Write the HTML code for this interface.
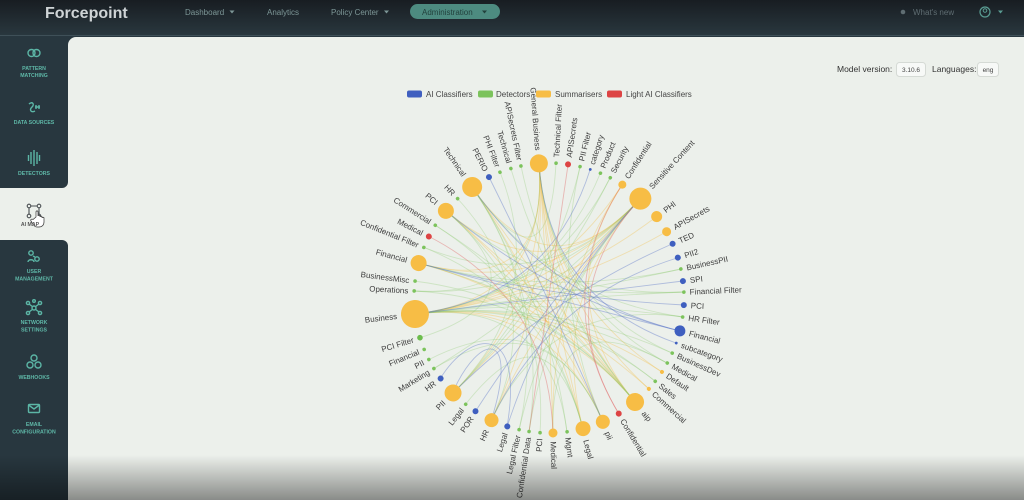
<!DOCTYPE html>
<html><head><meta charset="utf-8"><style>
*{margin:0;padding:0;box-sizing:border-box}
html,body{width:1024px;height:500px;overflow:hidden}
body{background:#ecf0eb;font-family:"Liberation Sans",sans-serif;position:relative}
.nav{position:absolute;left:0;top:0;width:1024px;height:36px;background:linear-gradient(#181d22,#29373e);border-bottom:1px solid #3f5058}
.dk{position:absolute;left:0;top:30px;width:1024px;height:30px;background:#28373f}
.content{position:absolute;left:68px;top:37px;width:956px;height:463px;background:#ecf0eb;border-top-left-radius:8px}
.sb1{position:absolute;left:0;top:36px;width:68px;height:152px;background:#28373f;border-bottom-right-radius:6px}
.sb2{position:absolute;left:0;top:240px;width:68px;height:260px;background:#28373f;border-top-right-radius:6px}
.shade{position:absolute;left:0;top:455px;width:1024px;height:45px;background:linear-gradient(rgba(0,0,0,0),rgba(0,0,0,0.42))}
svg{position:absolute;left:0;top:0}
</style></head><body>
<div class="dk"></div>
<div class="nav"></div>
<div class="content"></div>
<div class="sb1"></div>
<div class="sb2"></div>
<svg width="1024" height="500" viewBox="0 0 1024 500" font-family="Liberation Sans, sans-serif">
<!-- NAV -->
<text x="45" y="18" font-size="16" font-weight="bold" fill="#cfd4d6">Forcepoint</text>
<g font-size="8" fill="#7d9797">
<text x="185" y="15">Dashboard</text><path d="M229.5,10.5h5l-2.5,3z"/>
<text x="267" y="15">Analytics</text>
<text x="331" y="15">Policy Center</text><path d="M384,10.5h5l-2.5,3z"/>
</g>
<rect x="410" y="4" width="90" height="15" rx="7.5" fill="#4d8b80"/>
<text x="422" y="14.8" font-size="8" fill="#22413c">Administration</text><path d="M482,10.5h5l-2.5,3z" fill="#22413c"/>
<circle cx="903" cy="12" r="2.3" fill="#5f6d72"/>
<text x="913" y="15" font-size="8" fill="#5f6d72">What's new</text>
<circle cx="985" cy="12" r="5" fill="none" stroke="#5a9d93" stroke-width="1.2"/>
<circle cx="985" cy="10.5" r="1.8" fill="none" stroke="#5a9d93" stroke-width="1"/>
<path d="M998,10.5h5l-2.5,3z" fill="#5a9d93"/>

<!-- SIDEBAR -->
<g fill="none" stroke="#5cb6a6" stroke-width="1.4">
<circle cx="31.5" cy="53" r="3.5"/><circle cx="36.5" cy="53" r="3.5"/>
<path d="M29,104c3,-3 6,0 3,3c-3,3 -1,6 3,4M35,107h5M36,105v4M39,105v4"/>
<path d="M26,158v0M28.5,155v6M31,152v12M34,150v16M37,152v12M39.5,155v6M42,158v0"/>
<circle cx="31" cy="253" r="2.2"/><circle cx="37" cy="259" r="2.2"/><path d="M28,262c0,-3 6,-3 6,0M33,256l2,1"/>
<circle cx="34" cy="308" r="2"/><circle cx="28" cy="303" r="1.6"/><circle cx="40" cy="303" r="1.6"/><circle cx="28" cy="313" r="1.6"/><circle cx="40" cy="313" r="1.6"/><circle cx="34" cy="301" r="1.3"/><path d="M29,304l4,3M39,304l-4,3M29,312l4,-3M39,312l-4,-3"/>
<circle cx="34" cy="358" r="3"/><circle cx="30" cy="365" r="3"/><circle cx="38" cy="365" r="3"/>
<rect x="28.5" y="404.5" width="11" height="8" rx="1"/><path d="M28.5,405l5.5,4l5.5,-4"/>
</g>
<g fill="none" stroke="#4a4f52" stroke-width="1.1">
<circle cx="29" cy="206" r="1.8"/><circle cx="39" cy="206" r="1.8"/><circle cx="29" cy="216" r="1.8"/><circle cx="39" cy="216" r="1.8"/>
<path d="M31,206h6M29,208v6M39,208v6"/>
</g>
<path d="M36,217v-5c0,-1.5 2,-1.5 2,0v4c0,-1 2,-1 2,0v1c0,-1 2,-1 2,0v1c0,-1 2,-1 2,0v4c0,3 -2,5 -5,5h-2c-2,0 -3,-1 -4,-3l-2,-3c-1,-1.5 1,-2.5 2,-1.5z" fill="#fff" stroke="#333" stroke-width="0.7"/>
<g font-size="5.2" font-weight="bold" fill="#5fb8a8" text-anchor="middle">
<text x="34" y="70">PATTERN</text><text x="34" y="77">MATCHING</text>
<text x="34" y="124">DATA SOURCES</text>
<text x="34" y="175">DETECTORS</text>
<text x="34" y="273">USER</text><text x="34" y="280.5">MANAGEMENT</text>
<text x="34" y="324">NETWORK</text><text x="34" y="331.5">SETTINGS</text>
<text x="34" y="379">WEBHOOKS</text>
<text x="34" y="426">EMAIL</text><text x="34" y="433.5">CONFIGURATION</text>
</g>
<text x="30" y="226" font-size="5.2" font-weight="bold" fill="#555" text-anchor="middle">AI MAP</text>

<!-- MODEL VERSION -->
<text x="837" y="72" font-size="8.5" fill="#333">Model version:</text>
<rect x="896.5" y="62.5" width="29" height="14" rx="3" fill="#f7f9f7" stroke="#d5dad5"/>
<text x="911" y="71.8" font-size="6.5" fill="#444" text-anchor="middle">3.10.6</text>
<text x="932" y="72" font-size="8.5" fill="#333">Languages:</text>
<rect x="977.5" y="62.5" width="21" height="14" rx="3" fill="#f7f9f7" stroke="#d5dad5"/>
<text x="988" y="71.8" font-size="6.5" fill="#444" text-anchor="middle">eng</text>

<!-- LEGEND -->
<g font-size="8" fill="#444">
<rect x="407" y="90.5" width="15" height="7" rx="2" fill="#3f5fbf"/><text x="426" y="97">AI Classifiers</text>
<rect x="478" y="90.5" width="15" height="7" rx="2" fill="#7cc35c"/><text x="496" y="97">Detectors</text>
<rect x="536" y="90.5" width="15" height="7" rx="2" fill="#f7bd45"/><text x="555" y="97">Summarisers</text>
<rect x="607" y="90.5" width="15" height="7" rx="2" fill="#dd4444"/><text x="626" y="97">Light AI Classifiers</text>
</g>

<!-- LINKS -->
<g fill="none" stroke-width="0.9">
<g stroke="#f2bf4f" stroke-opacity="0.38">
<path d="M539,164Q549,298 415,314"/><path d="M539,164Q549,298 635,402"/><path d="M539,164Q549,298 583,429"/><path d="M539,164Q549,298 603,422"/><path d="M539,164Q549,298 553,434"/><path d="M539,164Q549,298 491,421"/><path d="M539,164Q549,298 649,389"/><path d="M539,164Q549,298 662,372"/><path d="M539,164Q549,298 452,394"/><path d="M539,164Q549,298 418,263"/>
<path d="M640,199Q549,298 415,314"/><path d="M640,199Q549,298 418,263"/><path d="M640,199Q549,298 452,394"/><path d="M640,199Q549,298 445,210"/><path d="M640,199Q549,298 472,187"/><path d="M640,199Q549,298 583,429"/><path d="M640,199Q549,298 491,421"/>
<path d="M415,314Q549,298 656,217"/><path d="M415,314Q549,298 666,232"/><path d="M415,314Q549,298 622,185"/><path d="M415,314Q549,298 635,402"/><path d="M415,314Q549,298 662,372"/><path d="M415,314Q549,298 603,422"/>
<path d="M635,402Q549,298 472,187"/><path d="M635,402Q549,298 445,210"/><path d="M635,402Q549,298 418,263"/><path d="M635,402Q549,298 622,185"/>
<path d="M472,187Q549,298 583,429"/><path d="M445,210Q549,298 603,422"/><path d="M418,263Q549,298 649,389"/><path d="M553,434Q549,298 622,185"/>
</g>
<g stroke="#8fca72" stroke-opacity="0.32">
<path d="M415,314Q549,298 684,292"/><path d="M415,314Q549,298 683,317"/><path d="M415,314Q549,298 681,269"/><path d="M415,314Q549,298 672,353"/><path d="M415,314Q549,298 655,381"/><path d="M415,314Q549,298 667,363"/><path d="M415,314Q549,298 610,178"/><path d="M415,314Q549,298 600,174"/><path d="M415,314Q549,298 567,432"/>
<path d="M472,187Q549,298 556,163"/><path d="M472,187Q549,298 683,317"/><path d="M472,187Q549,298 567,432"/><path d="M472,187Q549,298 519,430"/><path d="M472,187Q549,298 529,432"/>
<path d="M418,263Q549,298 684,292"/><path d="M418,263Q549,298 681,269"/><path d="M418,263Q549,298 655,381"/>
<path d="M452,394Q549,298 580,167"/><path d="M452,394Q549,298 500,172"/><path d="M452,394Q549,298 610,178"/>
<path d="M491,421Q549,298 457,198"/><path d="M491,421Q549,298 683,317"/>
<path d="M583,429Q549,298 465,405"/><path d="M583,429Q549,298 423,247"/><path d="M583,429Q549,298 435,225"/>
<path d="M603,422Q549,298 428,360"/><path d="M603,422Q549,298 580,167"/><path d="M603,422Q549,298 433,369"/>
<path d="M635,402Q549,298 414,291"/><path d="M635,402Q549,298 414,281"/><path d="M635,402Q549,298 435,225"/><path d="M635,402Q549,298 521,166"/><path d="M635,402Q549,298 511,169"/>
<path d="M445,210Q549,298 419,338"/><path d="M445,210Q549,298 540,433"/><path d="M445,210Q549,298 684,292"/>
<path d="M640,199Q549,298 529,432"/><path d="M640,199Q549,298 519,430"/><path d="M640,199Q549,298 423,247"/><path d="M640,199Q549,298 433,369"/><path d="M640,199Q549,298 414,291"/>
<path d="M539,164Q549,298 672,353"/><path d="M539,164Q549,298 414,291"/><path d="M539,164Q549,298 667,363"/><path d="M553,434Q549,298 667,363"/>
</g>
<g stroke="#5a74c8" stroke-opacity="0.42">
<path d="M445,210Q549,298 680,331"/><path d="M418,263Q549,298 684,305"/><path d="M415,314Q549,298 683,281"/><path d="M672,244Q549,298 452,394"/><path d="M677,258Q549,298 491,421"/><path d="M489,177Q549,298 603,422"/>
<path d="M440,379C470,330 525,320 507,427"/><path d="M452,394C480,330 520,330 491,421"/>
<path d="M507,427Q549,298 640,199"/><path d="M475,412Q549,298 640,199"/><path d="M680,331Q549,298 418,263"/><path d="M676,343Q549,298 539,164"/><path d="M590,170Q549,298 415,314"/><path d="M680,331Q549,298 472,187"/>
</g>
<g stroke="#e06666" stroke-opacity="0.42">
<path d="M428,236Q549,298 553,434"/><path d="M568,165Q549,298 529,432"/><path d="M619,414Q549,298 640,199"/><path d="M619,414Q549,298 622,185"/>
</g>
</g>

<!-- NODES -->
<g font-size="8" fill="#3d3d3d">
<g transform="rotate(-87 549 298)"><circle cx="684" cy="298" r="1.8" fill="#7cc35c"/><text x="689.8" y="300.8">Technical Filter</text></g>
<g transform="rotate(-81.9 549 298)"><circle cx="684" cy="298" r="3" fill="#dd4444"/><text x="691" y="300.8">APISecrets</text></g>
<g transform="rotate(-76.7 549 298)"><circle cx="684" cy="298" r="1.8" fill="#7cc35c"/><text x="689.8" y="300.8">PII Filter</text></g>
<g transform="rotate(-72.2 549 298)"><circle cx="684" cy="298" r="1.4" fill="#3f5fbf"/><text x="689.4" y="300.8">category</text></g>
<g transform="rotate(-67.6 549 298)"><circle cx="684" cy="298" r="1.8" fill="#7cc35c"/><text x="689.8" y="300.8">Product</text></g>
<g transform="rotate(-63 549 298)"><circle cx="684" cy="298" r="1.8" fill="#7cc35c"/><text x="689.8" y="300.8">Security</text></g>
<g transform="rotate(-57.1 549 298)"><circle cx="684" cy="298" r="4" fill="#f7bd45"/><text x="692" y="300.8">Confidential</text></g>
<g transform="rotate(-47.4 549 298)"><circle cx="684" cy="298" r="11" fill="#f7bd45"/><text x="699" y="300.8">Sensitive Content</text></g>
<g transform="rotate(-37.1 549 298)"><circle cx="684" cy="298" r="5.5" fill="#f7bd45"/><text x="693.5" y="300.8">PHI</text></g>
<g transform="rotate(-29.4 549 298)"><circle cx="684" cy="298" r="4.5" fill="#f7bd45"/><text x="692.5" y="300.8">APISecrets</text></g>
<g transform="rotate(-23.7 549 298)"><circle cx="684" cy="298" r="3" fill="#3f5fbf"/><text x="691" y="300.8">TED</text></g>
<g transform="rotate(-17.4 549 298)"><circle cx="684" cy="298" r="3" fill="#3f5fbf"/><text x="691" y="300.8">PII2</text></g>
<g transform="rotate(-12.4 549 298)"><circle cx="684" cy="298" r="1.8" fill="#7cc35c"/><text x="689.8" y="300.8">BusinessPII</text></g>
<g transform="rotate(-7.2 549 298)"><circle cx="684" cy="298" r="3" fill="#3f5fbf"/><text x="691" y="300.8">SPI</text></g>
<g transform="rotate(-2.5 549 298)"><circle cx="684" cy="298" r="1.8" fill="#7cc35c"/><text x="689.8" y="300.8">Financial Filter</text></g>
<g transform="rotate(3 549 298)"><circle cx="684" cy="298" r="3" fill="#3f5fbf"/><text x="691" y="300.8">PCI</text></g>
<g transform="rotate(8.1 549 298)"><circle cx="684" cy="298" r="1.8" fill="#7cc35c"/><text x="689.8" y="300.8">HR Filter</text></g>
<g transform="rotate(14.1 549 298)"><circle cx="684" cy="298" r="5.5" fill="#3f5fbf"/><text x="693.5" y="300.8">Financial</text></g>
<g transform="rotate(19.5 549 298)"><circle cx="684" cy="298" r="1.4" fill="#3f5fbf"/><text x="689.4" y="300.8">subcategory</text></g>
<g transform="rotate(24.1 549 298)"><circle cx="684" cy="298" r="1.8" fill="#7cc35c"/><text x="689.8" y="300.8">BusinessDev</text></g>
<g transform="rotate(28.8 549 298)"><circle cx="684" cy="298" r="1.8" fill="#7cc35c"/><text x="689.8" y="300.8">Medical</text></g>
<g transform="rotate(33.2 549 298)"><circle cx="684" cy="298" r="2" fill="#f7bd45"/><text x="690" y="300.8">Default</text></g>
<g transform="rotate(38.1 549 298)"><circle cx="684" cy="298" r="1.8" fill="#7cc35c"/><text x="689.8" y="300.8">Sales</text></g>
<g transform="rotate(42.3 549 298)"><circle cx="684" cy="298" r="2" fill="#f7bd45"/><text x="690" y="300.8">Commercial</text></g>
<g transform="rotate(50.4 549 298)"><circle cx="684" cy="298" r="9" fill="#f7bd45"/><text x="697" y="300.8">aip</text></g>
<g transform="rotate(58.9 549 298)"><circle cx="684" cy="298" r="3" fill="#dd4444"/><text x="691" y="300.8">Confidential</text></g>
<g transform="rotate(66.5 549 298)"><circle cx="684" cy="298" r="7" fill="#f7bd45"/><text x="695" y="300.8">pii</text></g>
<g transform="rotate(75.4 549 298)"><circle cx="684" cy="298" r="7.5" fill="#f7bd45"/><text x="695.5" y="300.8">Legal</text></g>
<g transform="rotate(82.3 549 298)"><circle cx="684" cy="298" r="1.8" fill="#7cc35c"/><text x="689.8" y="300.8">Mgmt</text></g>
<g transform="rotate(88.3 549 298)"><circle cx="684" cy="298" r="4.5" fill="#f7bd45"/><text x="692.5" y="300.8">Medical</text></g>
<g text-anchor="end">
<g transform="rotate(-86.2 549 298)"><circle cx="414" cy="298" r="1.8" fill="#7cc35c"/><text x="408.2" y="300.8">PCI</text></g>
<g transform="rotate(-81.5 549 298)"><circle cx="414" cy="298" r="1.8" fill="#7cc35c"/><text x="408.2" y="300.8">Confidential Data</text></g>
<g transform="rotate(-77.2 549 298)"><circle cx="414" cy="298" r="1.8" fill="#7cc35c"/><text x="408.2" y="300.8">Legal Filter</text></g>
<g transform="rotate(-72 549 298)"><circle cx="414" cy="298" r="3" fill="#3f5fbf"/><text x="407" y="300.8">Legal</text></g>
<g transform="rotate(-64.8 549 298)"><circle cx="414" cy="298" r="7" fill="#f7bd45"/><text x="403" y="300.8">HR</text></g>
<g transform="rotate(-57 549 298)"><circle cx="414" cy="298" r="3" fill="#3f5fbf"/><text x="407" y="300.8">POR</text></g>
<g transform="rotate(-51.9 549 298)"><circle cx="414" cy="298" r="1.8" fill="#7cc35c"/><text x="408.2" y="300.8">Legal</text></g>
<g transform="rotate(-44.7 549 298)"><circle cx="414" cy="298" r="8.5" fill="#f7bd45"/><text x="401.5" y="300.8">PII</text></g>
<g transform="rotate(-36.6 549 298)"><circle cx="414" cy="298" r="3" fill="#3f5fbf"/><text x="407" y="300.8">HR</text></g>
<g transform="rotate(-31.5 549 298)"><circle cx="414" cy="298" r="1.8" fill="#7cc35c"/><text x="408.2" y="300.8">Marketing</text></g>
<g transform="rotate(-27.1 549 298)"><circle cx="414" cy="298" r="1.8" fill="#7cc35c"/><text x="408.2" y="300.8">PII</text></g>
<g transform="rotate(-22.4 549 298)"><circle cx="414" cy="298" r="1.8" fill="#7cc35c"/><text x="408.2" y="300.8">Financial</text></g>
<g transform="rotate(-17.1 549 298)"><circle cx="414" cy="298" r="2.8" fill="#6cbd4c"/><text x="407.2" y="300.8">PCI Filter</text></g>
<g transform="rotate(-6.8 549 298)"><circle cx="414" cy="298" r="14" fill="#f7bd45"/><text x="396" y="300.8">Business</text></g>
<g transform="rotate(3 549 298)"><circle cx="414" cy="298" r="1.8" fill="#7cc35c"/><text x="408.2" y="300.8">Operations</text></g>
<g transform="rotate(7.2 549 298)"><circle cx="414" cy="298" r="1.8" fill="#7cc35c"/><text x="408.2" y="300.8">BusinessMisc</text></g>
<g transform="rotate(15 549 298)"><circle cx="414" cy="298" r="8" fill="#f7bd45"/><text x="402" y="300.8">Financial</text></g>
<g transform="rotate(22 549 298)"><circle cx="414" cy="298" r="1.8" fill="#7cc35c"/><text x="408.2" y="300.8">Confidential Filter</text></g>
<g transform="rotate(27.1 549 298)"><circle cx="414" cy="298" r="3" fill="#dd4444"/><text x="407" y="300.8">Medical</text></g>
<g transform="rotate(32.6 549 298)"><circle cx="414" cy="298" r="1.8" fill="#7cc35c"/><text x="408.2" y="300.8">Commercial</text></g>
<g transform="rotate(40.2 549 298)"><circle cx="414" cy="298" r="8" fill="#f7bd45"/><text x="402" y="300.8">PCI</text></g>
<g transform="rotate(47.4 549 298)"><circle cx="414" cy="298" r="1.8" fill="#7cc35c"/><text x="408.2" y="300.8">HR</text></g>
<g transform="rotate(55.3 549 298)"><circle cx="414" cy="298" r="10" fill="#f7bd45"/><text x="400" y="300.8">Technical</text></g>
<g transform="rotate(63.6 549 298)"><circle cx="414" cy="298" r="3" fill="#3f5fbf"/><text x="407" y="300.8">PERIO</text></g>
<g transform="rotate(68.7 549 298)"><circle cx="414" cy="298" r="1.8" fill="#7cc35c"/><text x="408.2" y="300.8">PHI Filter</text></g>
<g transform="rotate(73.6 549 298)"><circle cx="414" cy="298" r="1.8" fill="#7cc35c"/><text x="408.2" y="300.8">Technical</text></g>
<g transform="rotate(78 549 298)"><circle cx="414" cy="298" r="1.8" fill="#7cc35c"/><text x="408.2" y="300.8">APISecrets Filter</text></g>
<g transform="rotate(85.7 549 298)"><circle cx="414" cy="298" r="9" fill="#f7bd45"/><text x="401" y="300.8">General Business</text></g>
</g>
</g>
</svg>
<div class="shade"></div>
</body></html>
